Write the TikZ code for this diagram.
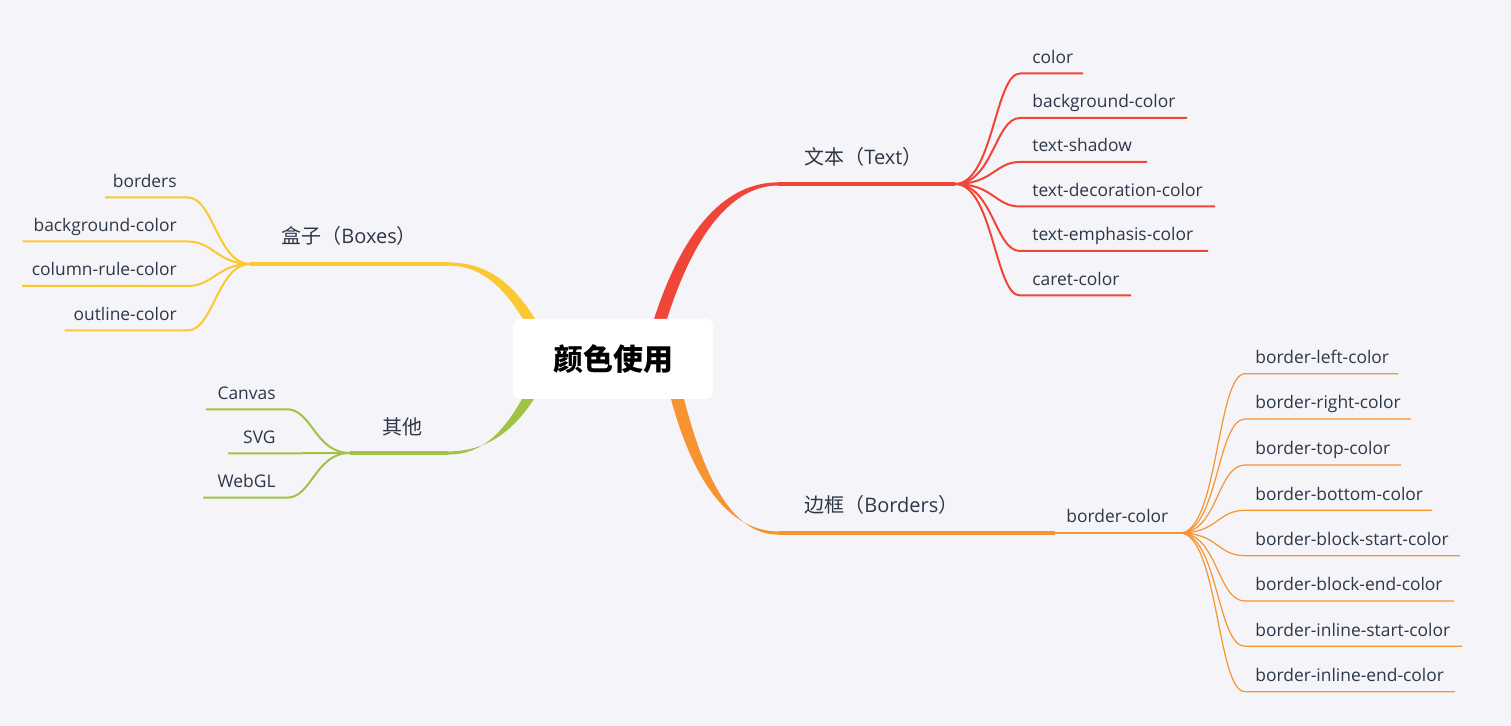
\documentclass[tikz,border=0pt]{standalone}
\usepackage{fontspec}
\setmainfont{Open Sans}
\newfontfamily\cjk{Noto Sans CJK SC}
\definecolor{bg}{RGB}{245,245,249}
\definecolor{txt}{RGB}{45,55,72}
\definecolor{cred}{RGB}{240,70,55}
\definecolor{corange}{RGB}{247,148,50}
\definecolor{cyellow}{RGB}{252,200,50}
\definecolor{cgreen}{RGB}{160,195,70}
\tikzset{
  ctext/.style={font=\fontsize{8.7}{10}\selectfont, text=txt, inner sep=0pt},
  ltext/.style={font=\fontsize{10}{12}\selectfont, text=txt, inner sep=0pt},
  rootbox/.style={fill=white, rounded corners=3.5pt, minimum width=100pt, minimum height=40pt, inner sep=0pt,
    font=\cjk\bfseries\fontsize{15}{18}\selectfont, text=black},
  mainline/.style={line width=1.6pt},
  subline/.style={line width=1pt},
  thinline/.style={line width=0.6pt}
}
\begin{document}
\begin{tikzpicture}[x=0.5pt,y=-0.5pt]
\path[fill=bg] (0,0) rectangle (1511,726);
\useasboundingbox (0,0) rectangle (1511,726);

\node[rootbox] (root) at (613,359) {颜色使用};

% ---------- Text (red) ----------
\coordinate (hT) at (778,184);
\coordinate (jT) at (955,184);
\fill[cred] (654,319) .. controls (688,214) and (735,182.4) .. (778,182.4) -- (778,185.6)
   .. controls (738,185.6) and (698,222) .. (667,319) -- cycle;
\draw[cred,mainline] (hT) -- (jT);
\node[ltext,anchor=west] (text) at (804,157) {{\cjk 文本（}Text{\cjk ）}};
\foreach \y/\e/\t [count=\i] in {73.5/1083/color, 118/1187/background-color, 162/1147/text-shadow,
   206.5/1215/text-decoration-color, 251/1208/text-emphasis-color, 295.5/1131/caret-color}{
  \coordinate (tu\i) at (1020,\y);
  \coordinate (te\i) at (\e,\y);
  \node[ctext,anchor=base west] (tn\i) at (1032,{\y-10}) {\t};
  \draw[cred,subline] (jT) .. controls +(38,0) and +(-25,0) .. (tu\i) -- (te\i);
}

% ---------- Borders (orange) ----------
\coordinate (hB) at (778,533);
\coordinate (mB) at (1055,533);
\coordinate (jB) at (1180,533);
\fill[corange] (671,399) .. controls (696,492) and (735,531.4) .. (778,531.4) -- (778,534.6)
   .. controls (738,534.6) and (708,492) .. (684,399) -- cycle;
\draw[corange,mainline] (hB) -- (mB);
\draw[corange,subline] (mB) -- (jB);
\node[ltext,anchor=west] (borders) at (804,505) {{\cjk 边框（}Borders{\cjk ）}};
\node[ctext,anchor=base west] (bcolor) at (1066,523) {border-color};
\foreach \y/\e/\t [count=\i] in {373.7/1398/border-left-color, 419/1411/border-right-color,
   465/1401/border-top-color, 510.3/1432/border-bottom-color, 555.7/1460/border-block-start-color,
   601/1454/border-block-end-color, 646.3/1462/border-inline-start-color, 691.7/1455/border-inline-end-color}{
  \coordinate (bu\i) at (1245,\y);
  \coordinate (be\i) at (\e,\y);
  \node[ctext,anchor=base west] (bn\i) at (1255,{\y-10}) {\t};
  \draw[corange,thinline] (jB) .. controls +(38,0) and +(-28,0) .. (bu\i) -- (be\i);
}

% ---------- Boxes (yellow) ----------
\coordinate (hY) at (448,264);
\coordinate (jY) at (250,264);
\fill[cyellow] (535,319) .. controls (510,278) and (482,262.4) .. (448,262.4) -- (448,265.6)
   .. controls (478,265.6) and (500,282) .. (523,319) -- cycle;
\draw[cyellow,mainline] (hY) -- (jY);
\node[ltext,anchor=west] (boxes) at (281,236) {{\cjk 盒子（}Boxes{\cjk ）}};
\foreach \y/\e/\t [count=\i] in {197.5/105/borders, 241.5/22.5/background-color,
   286/22/column-rule-color, 330.3/64.5/outline-color}{
  \coordinate (yu\i) at (188,\y);
  \coordinate (ye\i) at (\e,\y);
  \node[ctext,anchor=base east] (yn\i) at (177,{\y-10}) {\t};
  \draw[cyellow,subline] (jY) .. controls +(-32,0) and +(25,0) .. (yu\i) -- (ye\i);
}

% ---------- Others (green) ----------
\coordinate (hG) at (448,453);
\coordinate (jG) at (350,453);
\fill[cgreen] (534,399) .. controls (510,436) and (482,451.4) .. (448,451.4) -- (448,454.6)
   .. controls (478,454.6) and (500,438) .. (522,399) -- cycle;
\draw[cgreen,mainline] (hG) -- (jG);
\node[ltext] (others) at (402,427) {\cjk 其他};
\foreach \y/\e/\t [count=\i] in {409.3/206/Canvas, 453.3/228/SVG, 497.7/203/WebGL}{
  \coordinate (gu\i) at (287,\y);
  \coordinate (ge\i) at (\e,\y);
  \node[ctext,anchor=base east] (gn\i) at (276,{\y-10}) {\t};
  \draw[cgreen,subline] (jG) .. controls +(-35,0) and +(25,0) .. (gu\i) -- (ge\i);
}

\node[rootbox] at (root) {颜色使用};
\end{tikzpicture}
\end{document}
